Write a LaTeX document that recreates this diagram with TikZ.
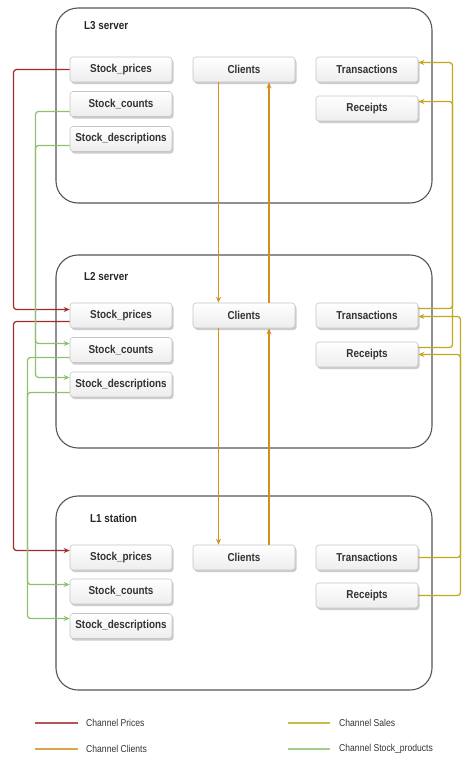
\documentclass[tikz,border=0pt]{standalone}
\usepackage{fontspec}
\setmainfont{Liberation Sans}
\newfontfamily\diafont[FakeStretch=0.86]{Liberation Sans}
\usetikzlibrary{arrows.meta,shadows,calc}
\definecolor{pricesC}{HTML}{A02C2C}
\definecolor{clientsC}{HTML}{D4901E}
\definecolor{salesC}{HTML}{C2A61C}
\definecolor{stockC}{HTML}{8DC06F}
\definecolor{txtC}{HTML}{333333}
\definecolor{frameC}{HTML}{555555}
\tikzset{
  container/.style={draw=frameC, line width=1.1pt, rounded corners=22pt, fill=white},
  title/.style={font=\diafont\bfseries\fontsize{11.5}{13}\selectfont, text=black!85, anchor=west, inner sep=0pt},
  box/.style={draw=gray!45, line width=0.6pt, rounded corners=3pt, top color=white, bottom color=gray!14,
    minimum width=102pt, minimum height=25pt, inner sep=0pt,
    font=\diafont\bfseries\fontsize{11.5}{13}\selectfont, text=txtC,
    drop shadow={shadow xshift=1.5pt, shadow yshift=-2pt, opacity=0.4, fill=gray}},
  wire/.style={line width=1.25pt, rounded corners=3pt},
  tip/.style={-{Stealth[length=6pt,width=5pt]}},
  rtip/.style={{Stealth[length=6pt,width=5pt]}-},
  prices/.style={wire, color=pricesC},
  clients/.style={wire, color=clientsC},
  sales/.style={wire, color=salesC},
  stock/.style={wire, color=stockC},
  legtext/.style={anchor=west, inner sep=0pt, font=\diafont\fontsize{10}{12}\selectfont, text=black!80},
  legline/.style={line width=1.3pt}
}
\begin{document}
\begin{tikzpicture}[x=1pt,y=-1pt]
\useasboundingbox (0,0) rectangle (474,771);
% containers
\draw[container] (56,8) rectangle (432,203);
\draw[container] (56,255) rectangle (432,448);
\draw[container] (56,496) rectangle (432,690);
\node[title] (t3) at (84,26) {L3 server};
\node[title] (t2) at (84,277) {L2 server};
\node[title] (t1) at (90,518) {L1 station};
% L3
\node[box] (l3sp) at (121,69.5) {Stock\_prices};
\node[box] (l3sc) at (121,104) {Stock\_counts};
\node[box] (l3sd) at (121,139) {Stock\_descriptions};
\node[box] (l3cl) at (244,69.5) {Clients};
\node[box] (l3tr) at (367,69.5) {Transactions};
\node[box] (l3re) at (367,108.5) {Receipts};
% L2
\node[box] (l2sp) at (121,315.5) {Stock\_prices};
\node[box] (l2sc) at (121,350) {Stock\_counts};
\node[box] (l2sd) at (121,384.5) {Stock\_descriptions};
\node[box] (l2cl) at (244,315.5) {Clients};
\node[box] (l2tr) at (367,315.5) {Transactions};
\node[box] (l2re) at (367,354.5) {Receipts};
% L1
\node[box] (l1sp) at (121,557.5) {Stock\_prices};
\node[box] (l1sc) at (121,591.5) {Stock\_counts};
\node[box] (l1sd) at (121,626) {Stock\_descriptions};
\node[box] (l1cl) at (244,557.5) {Clients};
\node[box] (l1tr) at (367,557.5) {Transactions};
\node[box] (l1re) at (367,595.5) {Receipts};
% routing columns
\coordinate (rxA) at (13.5,0);
\coordinate (gxA) at (35.5,0);
\coordinate (gxB) at (27.5,0);
\coordinate (yxA) at (452.5,0);
\coordinate (yxB) at (460.5,0);
% red: prices
\coordinate (l2spIn) at ($(l2sp.west)+(0,-6)$);
\coordinate (l2spOut) at ($(l2sp.west)+(0,6)$);
\coordinate (l1spIn) at ($(l1sp.west)+(0,-7)$);
\draw[prices,tip] (l3sp.west) -- (l3sp.west -| rxA) -- (rxA |- l2spIn) -- (l2spIn);
\draw[prices,tip] (l2spOut) -- (l2spOut -| rxA) -- (rxA |- l1spIn) -- (l1spIn);
% green: stock products
\coordinate (l3scOut) at ($(l3sc.west)+(0,7.5)$);
\coordinate (l3sdOut) at ($(l3sd.west)+(0,6.5)$);
\coordinate (l2scIn) at ($(l2sc.west)+(0,-6.5)$);
\coordinate (l2sdIn) at ($(l2sd.west)+(0,-7)$);
\coordinate (l2scOut) at ($(l2sc.west)+(0,7.5)$);
\coordinate (l2sdOut) at ($(l2sd.west)+(0,8)$);
\coordinate (l1scIn) at ($(l1sc.west)+(0,-7)$);
\coordinate (l1sdIn) at ($(l1sd.west)+(0,-7.5)$);
\draw[stock,tip] (l3scOut) -- (l3scOut -| gxA) -- (gxA |- l2scIn) -- (l2scIn);
\draw[stock,tip] (l3sdOut) -- (l3sdOut -| gxA) -- (gxA |- l2sdIn) -- (l2sdIn);
\draw[stock,tip] (l2scOut) -- (l2scOut -| gxB) -- (gxB |- l1scIn) -- (l1scIn);
\draw[stock,tip] (l2sdOut) -- (l2sdOut -| gxB) -- (gxB |- l1sdIn) -- (l1sdIn);
% orange: clients
\coordinate (c3d) at ($(l3cl.south)+(-25.5,0)$);
\coordinate (c3u) at ($(l3cl.south)+(25,0)$);
\coordinate (c2d) at ($(l2cl.south)+(-25.5,0)$);
\coordinate (c2u) at ($(l2cl.south)+(25,0)$);
\draw[clients,tip] (c3d) -- (c3d |- l2cl.north);
\draw[clients,rtip] (c3u) -- (c3u |- l2cl.north);
\draw[clients,tip] (c2d) -- (c2d |- l1cl.north);
\draw[clients,rtip] (c2u) -- (c2u |- l1cl.north);
% yellow: sales
\coordinate (l3trIn) at ($(l3tr.east)+(0,-7)$);
\coordinate (l3reIn) at ($(l3re.east)+(0,-7)$);
\coordinate (l2trOut) at ($(l2tr.east)+(0,-7)$);
\coordinate (l2reOut) at ($(l2re.east)+(0,-7)$);
\coordinate (l2trIn) at ($(l2tr.east)+(0,1)$);
\coordinate (l2reIn) at ($(l2re.east)+(0,0)$);
\draw[sales,tip] (l2trOut) -- (l2trOut -| yxA) -- (yxA |- l3trIn) -- (l3trIn);
\draw[sales,tip] (l2reOut) -- (l2reOut -| yxA) -- (yxA |- l3reIn) -- (l3reIn);
\draw[sales,tip] (l1tr.east) -- (l1tr.east -| yxB) -- (yxB |- l2trIn) -- (l2trIn);
\draw[sales,tip] (l1re.east) -- (l1re.east -| yxB) -- (yxB |- l2reIn) -- (l2reIn);
% legend
\coordinate (lpA) at (35,723); \coordinate (lpB) at (78,723);
\coordinate (lcA) at (35,749); \coordinate (lcB) at (78,749);
\coordinate (lsA) at (288,723); \coordinate (lsB) at (330,723);
\coordinate (lkA) at (288,749); \coordinate (lkB) at (330,749);
\draw[legline, color=pricesC!80] (lpA) -- (lpB);
\draw[legline, color=clientsC!80] (lcA) -- (lcB);
\draw[legline, color=salesC!80] (lsA) -- (lsB);
\draw[legline, color=stockC!80] (lkA) -- (lkB);
\node[legtext] (lp) at (86,723) {Channel Prices};
\node[legtext] (lc) at (86,749) {Channel Clients};
\node[legtext] (ls) at (339,723) {Channel Sales};
\node[legtext] (lk) at (339,749) {Channel Stock\_products};
\end{tikzpicture}
\end{document}
